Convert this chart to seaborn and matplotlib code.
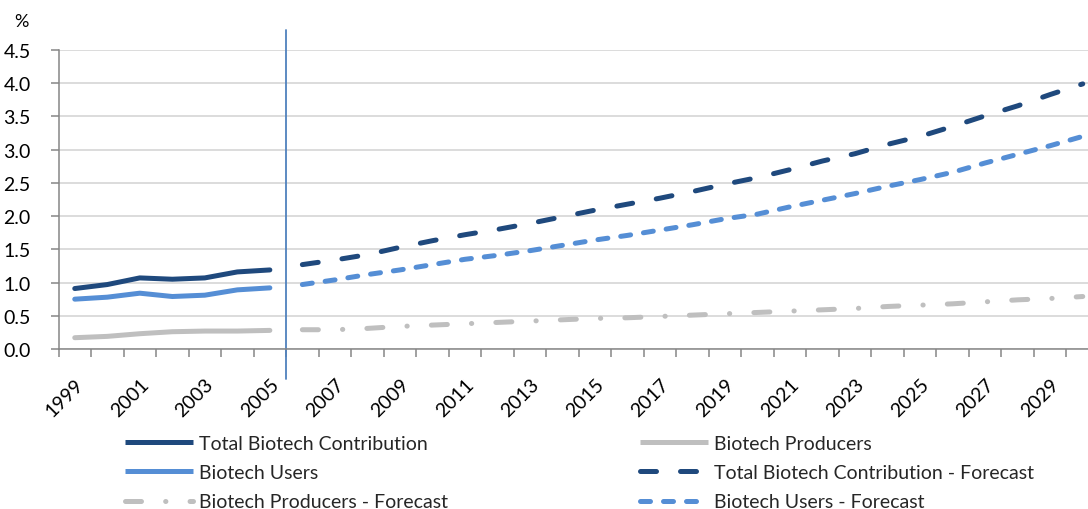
import numpy as np
import matplotlib
matplotlib.use("Agg")
import matplotlib.pyplot as plt
from matplotlib.lines import Line2D
import seaborn as sns

# ---- data -------------------------------------------------------------
years = list(range(1999, 2031))
hist_years = years[:7]          # 1999-2005
fc_years = years[7:]            # 2006-2030

total_hist = [0.91, 0.97, 1.07, 1.05, 1.07, 1.16, 1.19]
users_hist = [0.75, 0.78, 0.84, 0.79, 0.81, 0.89, 0.92]
prod_hist = [0.17, 0.19, 0.23, 0.26, 0.27, 0.27, 0.28]

total_fc = [1.27, 1.34, 1.42, 1.53, 1.63, 1.72, 1.80, 1.89, 1.99, 2.09,
            2.18, 2.27, 2.37, 2.48, 2.58, 2.70, 2.83, 2.94, 3.08, 3.20,
            3.35, 3.51, 3.66, 3.83, 3.99]
users_fc = [0.97, 1.04, 1.12, 1.19, 1.27, 1.35, 1.41, 1.48, 1.56, 1.64,
            1.71, 1.79, 1.87, 1.96, 2.03, 2.14, 2.24, 2.34, 2.45, 2.55,
            2.66, 2.80, 2.93, 3.06, 3.20]
prod_fc = [0.29, 0.29, 0.31, 0.34, 0.36, 0.38, 0.40, 0.42, 0.44, 0.46,
           0.47, 0.49, 0.51, 0.53, 0.55, 0.57, 0.59, 0.61, 0.64, 0.66,
           0.68, 0.71, 0.74, 0.76, 0.79]

y_ticks = [0.0, 0.5, 1.0, 1.5, 2.0, 2.5, 3.0, 3.5, 4.0, 4.5]

# ---- style ------------------------------------------------------------
sns.set_theme(style="white")
plt.rcParams["font.family"] = ["Lato", "DejaVu Sans"]

NAVY = "#1F497D"
BLUE = "#558ED5"
GREY = "#BFBFBF"
SEP = "#4F81BD"
LW = 3.6
FS = 14

W, H = 1088, 510
fig = plt.figure(figsize=(W / 100, H / 100), dpi=100)
# axes box in pixels: left 58.5, right 1099 (runs past the canvas), top 51, bottom 350
ax = fig.add_axes([58.5 / W, (H - 350) / H, (1099 - 58.5) / W, (350 - 51) / H])

pos = {y: i for i, y in enumerate(years)}
hx = [pos[y] for y in hist_years]
fx = [pos[y] for y in fc_years]

series = [
    ("Total Biotech Contribution", hx, total_hist, NAVY, "-"),
    ("Biotech Users", hx, users_hist, BLUE, "-"),
    ("Biotech Producers", hx, prod_hist, GREY, "-"),
    ("Total Biotech Contribution - Forecast", fx, total_fc, NAVY, (0, (3.2, 4.8))),
    ("Biotech Users - Forecast", fx, users_fc, BLUE, (0, (2.0, 2.6))),
    ("Biotech Producers - Forecast", fx, prod_fc, GREY, (0, (3.2, 4.83, 0.05, 4.83))),
]

handles = {}
for label, xs, ys, color, ls in series:
    sns.lineplot(x=xs, y=ys, ax=ax, color=color, linewidth=LW, linestyle=ls,
                 solid_capstyle="round", dash_capstyle="round", legend=False)
    handles[label] = Line2D([], [], color=color, linewidth=LW, linestyle=ls,
                            solid_capstyle="butt", dash_capstyle="round")

# ---- axes ---------------------------------------------------------------
ax.set_xlim(-0.5, len(years) - 0.5)
ax.set_ylim(0, 4.5)
ax.set_yticks(y_ticks)
ax.set_yticklabels([f"{v:.1f}" for v in y_ticks])
ax.yaxis.grid(True, color="#D9D9D9", linewidth=1.3)
ax.set_axisbelow(True)

for s in ["top", "right"]:
    ax.spines[s].set_visible(False)
for s in ["left", "bottom"]:
    ax.spines[s].set_color("#868686")
    ax.spines[s].set_linewidth(1.1)

# tick marks between categories, labels on every other category
ax.set_xticks(np.arange(-0.5, len(years), 1.0))
ax.set_xticklabels([])
ax.set_xticks(np.arange(0, len(years), 2), minor=True)
ax.set_xticklabels([str(y) for y in years[::2]], minor=True,
                   rotation=45, ha="right", rotation_mode="anchor")
ax.tick_params(axis="x", which="major", length=6, width=1.1, color="#868686",
               direction="out", bottom=True)
ax.tick_params(axis="x", which="minor", length=0, pad=19, labelsize=FS,
               labelcolor="black", bottom=True)
ax.tick_params(axis="y", length=6, width=1.1, color="#868686", direction="out",
               left=True, pad=14, labelsize=FS, labelcolor="black")

# separator between history and forecast
ax.axvline(pos[2005] + 0.5, ymin=(350 - 380) / 299, ymax=(350 - 31) / 299,
           color=SEP, linewidth=1.3, clip_on=False)

fig.text(14 / W, 1 - 22 / H, "%", fontsize=FS - 1, color="black",
         ha="left", va="center")

# ---- legend ------------------------------------------------------------
col1 = ["Total Biotech Contribution", "Biotech Users", "Biotech Producers - Forecast"]
col2 = ["Biotech Producers", "Total Biotech Contribution - Forecast", "Biotech Users - Forecast"]
common = dict(frameon=False, fontsize=FS, handlelength=3.5, handletextpad=0.3,
              labelspacing=0.63, borderpad=0, borderaxespad=0, loc="upper left")
leg1 = fig.legend([handles[k] for k in col1], col1,
                  bbox_to_anchor=(125 / W, 1 - 436 / H), **common)
leg2 = fig.legend([handles[k] for k in col2], col2,
                  bbox_to_anchor=(640 / W, 1 - 436 / H), **common)

fig.savefig("out.png", dpi=100)
